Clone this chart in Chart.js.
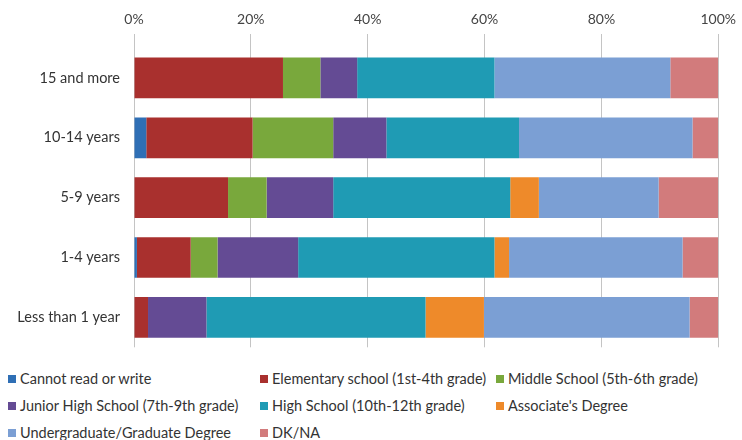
<!DOCTYPE html>
<html>
<head>
<meta charset="utf-8">
<script src="https://cdn.jsdelivr.net/npm/chart.js@4.4.1/dist/chart.umd.min.js"></script>
<style>
  html, body { margin: 0; padding: 0; background: #fff; }
  body { width: 742px; height: 440px; overflow: hidden; font-family: Lato, "Open Sans", sans-serif; }
  #wrap { position: relative; width: 742px; height: 362px; }
  #legend {
    display: grid;
    grid-template-columns: 252px 236px 246px;
    grid-auto-rows: 27px;
    padding-left: 8px;
    margin-top: 3px;
    font-size: 14.5px;
    color: #333;
  }
  .lg-item { display: flex; align-items: center; white-space: nowrap; }
  .lg-box { width: 8px; height: 8px; margin-right: 4px; }
</style>
</head>
<body>
<div id="wrap"><canvas id="chart"></canvas></div>
<div id="legend"></div>
<script>
// Years-in-country groups vs. highest education level (share of respondents, %)
const groups = ["15 and more", "10-14 years", "5-9 years", "1-4 years", "Less than 1 year"];
const cannotRead  = [0,    2.1,  0,    0.5,  0];
const elementary  = [25.5, 18.2, 16.1, 9.2,  2.4];
const middle      = [6.4,  13.8, 6.6,  4.6,  0];
const juniorHigh  = [6.3,  9.1,  11.4, 13.8, 10.0];
const highSchool  = [23.5, 22.7, 30.3, 33.6, 37.5];
const associate   = [0,    0,    4.9,  2.5,  10.0];
const university  = [30.1, 29.7, 20.5, 29.7, 35.2];
const dkna        = [8.2,  4.4,  10.2, 6.1,  4.9];
const xTicks = [0, 20, 40, 60, 80, 100];

const series = [
  ["Cannot read or write", cannotRead, "#2f6fb5"],
  ["Elementary school (1st-4th grade)", elementary, "#a9302e"],
  ["Middle School (5th-6th grade)", middle, "#79a83c"],
  ["Junior High School (7th-9th grade)", juniorHigh, "#644b94"],
  ["High School (10th-12th grade)", highSchool, "#1f9bb4"],
  ["Associate's Degree", associate, "#ee8a2a"],
  ["Undergraduate/Graduate Degree", university, "#7b9fd4"],
  ["DK/NA", dkna, "#d27b7c"],
];

const chart = new Chart(document.getElementById("chart"), {
  type: "bar",
  data: {
    labels: groups,
    datasets: series.map(([label, data, color]) => ({
      label, data,
      backgroundColor: color,
      borderWidth: 0,
      barPercentage: 0.68,
      categoryPercentage: 1,
    })),
  },
  options: {
    indexAxis: "y",
    responsive: true,
    maintainAspectRatio: false,
    animation: false,
    layout: { padding: { top: 2, right: 22, bottom: 14, left: 0 } },
    scales: {
      x: {
        position: "top",
        stacked: true,
        min: 0, max: 100,
        afterBuildTicks: (axis) => { axis.ticks = xTicks.map(v => ({ value: v })); },
        afterFit: (axis) => { axis.height = 46; },
        ticks: { color: "#444", font: { family: "Lato", size: 14 }, padding: 6, callback: v => v + "%" },
        grid: { color: "#c4c4c4", lineWidth: 1, tickLength: 14, drawTicks: true },
        border: { display: false },
      },
      y: {
        stacked: true,
        afterFit: (axis) => { axis.width = 134; },
        ticks: { color: "#333", font: { family: "Lato", size: 14.5 }, padding: 6 },
        grid: { display: false },
        border: { display: false },
      },
    },
    plugins: {
      legend: { display: false },
      tooltip: { enabled: false },
    },
  },
});

// legend laid out in three columns under the chart
const legendEl = document.getElementById("legend");
chart.data.datasets.forEach(ds => {
  const item = document.createElement("div");
  item.className = "lg-item";
  const box = document.createElement("span");
  box.className = "lg-box";
  box.style.background = ds.backgroundColor;
  const text = document.createElement("span");
  text.textContent = ds.label;
  item.appendChild(box);
  item.appendChild(text);
  legendEl.appendChild(item);
});
</script>
</body>
</html>
